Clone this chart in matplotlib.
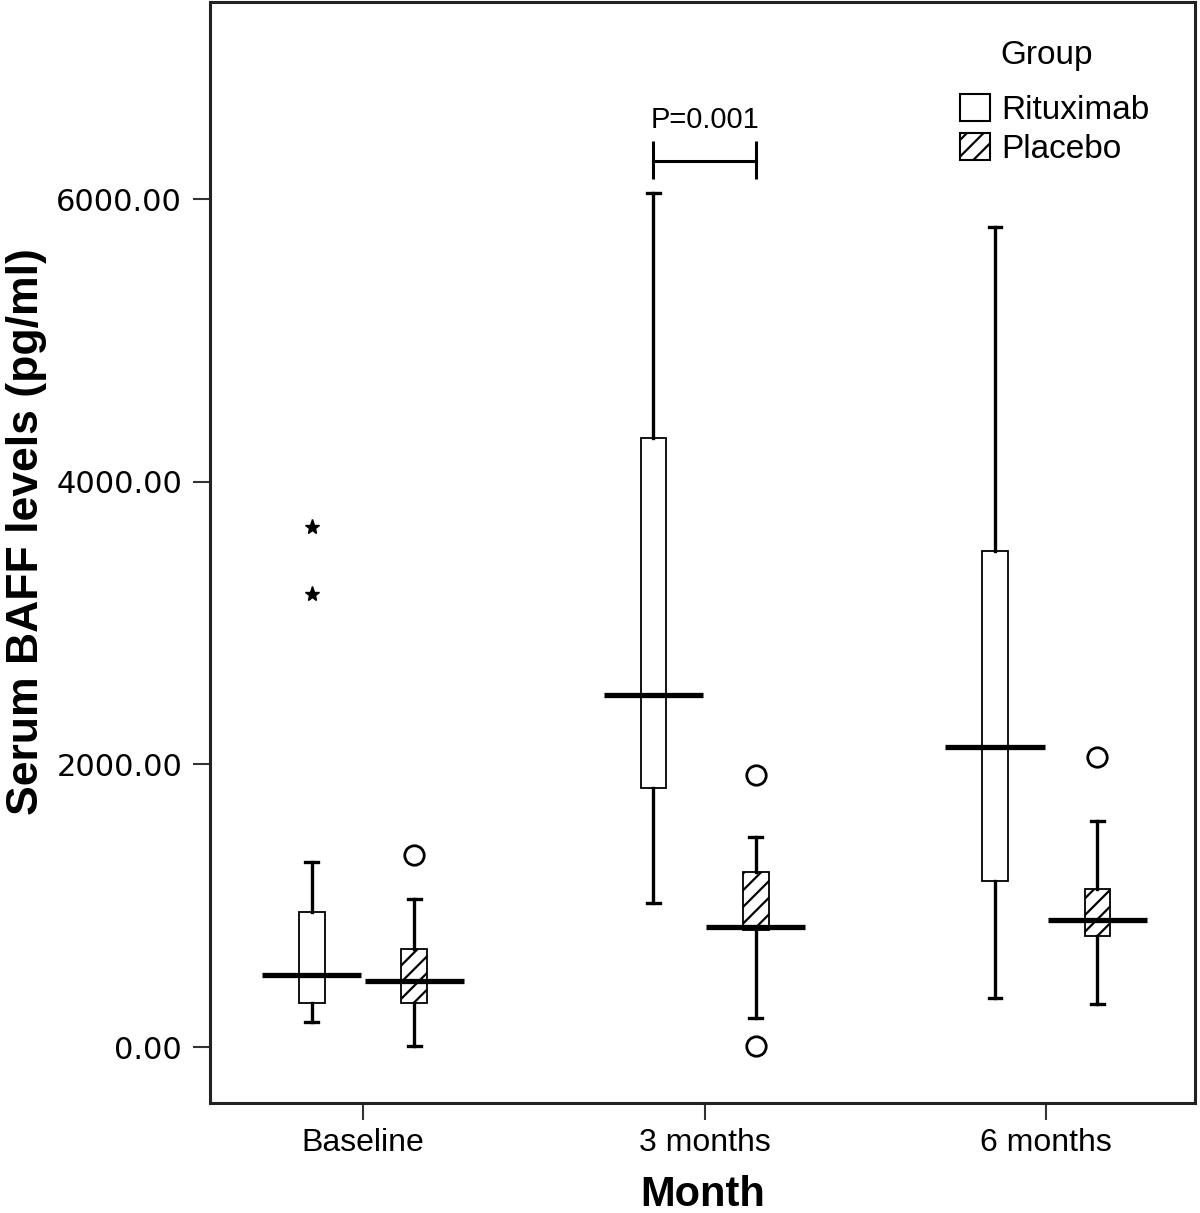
import matplotlib
matplotlib.use("Agg")
import matplotlib.pyplot as plt
from matplotlib.patches import Patch
from matplotlib.ticker import FormatStrFormatter

# Box plot summaries (pg/ml)
months = ["Baseline", "3 months", "6 months"]

rit_whislo = [177, 1018, 346]
rit_q1 = [311, 1830, 1173]
rit_med = [509, 2488, 2120]
rit_q3 = [955, 4309, 3510]
rit_whishi = [1309, 6043, 5802]
rit_extremes = [[3205, 3679], [], []]

pla_whislo = [7, 205, 304]
pla_q1 = [311, 825, 784]
pla_med = [466, 849, 897]
pla_q3 = [693, 1237, 1117]
pla_whishi = [1046, 1484, 1597]
pla_outliers = [[1357], [1922, 7], [2049]]

p_text = "P=0.001"

plt.rcParams["font.family"] = ["Liberation Sans", "DejaVu Sans"]
plt.rcParams["hatch.linewidth"] = 1.6

fig = plt.figure(figsize=(12, 12.13), dpi=100)
ax = fig.add_axes([0.175, 0.0907, 0.821, 0.9075])

offset = 0.15
box_w = 0.075
med_w = 0.29


def make_stats(lo, q1, med, q3, hi):
    return [dict(whislo=a, q1=b, med=c, q3=d, whishi=e, fliers=[])
            for a, b, c, d, e in zip(lo, q1, med, q3, hi)]


def draw_group(stats, pos, hatch, meds):
    bp = ax.bxp(stats, positions=pos, widths=box_w, patch_artist=True,
                showfliers=False,
                boxprops=dict(facecolor="white", edgecolor="black", linewidth=1.3),
                whiskerprops=dict(color="black", linewidth=2.4),
                capprops=dict(color="black", linewidth=2.4),
                medianprops=dict(visible=False))
    for b in bp["boxes"]:
        b.set_hatch(hatch)
        b.set_zorder(2)
    ax.hlines(meds, [p - med_w / 2 for p in pos], [p + med_w / 2 for p in pos],
              color="black", linewidth=3.8, zorder=4)


x = list(range(len(months)))
rit_pos = [i - offset for i in x]
pla_pos = [i + offset for i in x]

draw_group(make_stats(rit_whislo, rit_q1, rit_med, rit_q3, rit_whishi), rit_pos, "", rit_med)
draw_group(make_stats(pla_whislo, pla_q1, pla_med, pla_q3, pla_whishi), pla_pos, "//", pla_med)

# extreme values (stars) and outliers (circles)
for p, vals in zip(rit_pos, rit_extremes):
    if vals:
        ax.plot([p] * len(vals), vals, linestyle="none", marker="*", markersize=11,
                color="black", zorder=5)
for p, vals in zip(pla_pos, pla_outliers):
    if vals:
        ax.plot([p] * len(vals), vals, linestyle="none", marker="o", markersize=14,
                markerfacecolor="white", markeredgecolor="black", markeredgewidth=2,
                zorder=5)

# significance bracket between the 3-month boxes
bx1, bx2 = rit_pos[1], pla_pos[1]
ax.plot([bx1, bx2], [6270, 6270], color="black", linewidth=2.2)
ax.vlines([bx1, bx2], 6140, 6410, color="black", linewidth=2.2)
ax.text((bx1 + bx2) / 2, 6560, p_text, ha="center", va="center", fontsize=21)

ax.set_xlim(-0.448, 2.436)
ax.set_ylim(-396, 7394)
ax.set_xticks(x)
ax.set_xticklabels(months, fontsize=23)
ax.set_yticks([0, 2000, 4000, 6000])
ax.yaxis.set_major_formatter(FormatStrFormatter("%.2f"))
for lab in ax.get_yticklabels():
    lab.set_family("DejaVu Sans")
    lab.set_fontsize(22)
ax.tick_params(axis="both", direction="out", length=12, width=1.5, color="#333333")
ax.tick_params(axis="y", pad=8)
ax.tick_params(axis="x", pad=6)

for s in ax.spines.values():
    s.set_linewidth(2.2)
    s.set_color("#222222")

ax.set_xlabel("Month", fontsize=30, fontweight="bold", labelpad=12)
ax.set_ylabel("Serum BAFF levels (pg/ml)", fontsize=32, fontweight="bold")
ax.yaxis.set_label_coords(-0.1655, 0.519)

# legend: title placed on its own, entries below it
handles = [Patch(facecolor="white", edgecolor="black", linewidth=1.5, label="Rituximab"),
           Patch(facecolor="white", edgecolor="black", linewidth=1.5, hatch="//", label="Placebo")]
ax.legend(handles=handles, loc="upper left", bbox_to_anchor=(0.761, 0.917),
          frameon=False, fontsize=24, handlelength=0.9, handleheight=0.9,
          handletextpad=0.35, labelspacing=0.2, borderaxespad=0, borderpad=0)
ax.text(0.849, 0.952, "Group", transform=ax.transAxes, ha="center", va="center",
        fontsize=24)

fig.savefig("out.png", dpi=100)
